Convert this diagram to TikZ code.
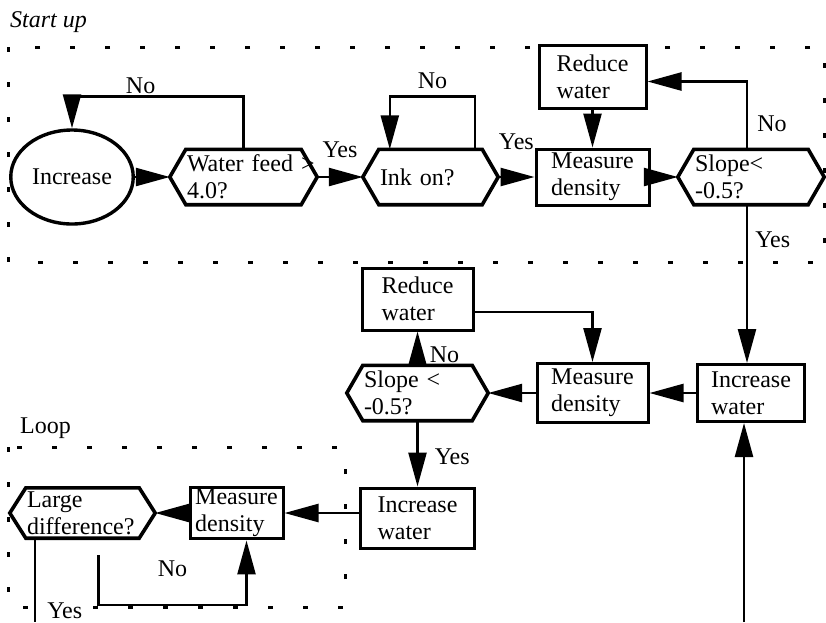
\documentclass[tikz,border=0pt]{standalone}
\usepackage{fontspec}
\setmainfont{Liberation Serif}
\usetikzlibrary{arrows.meta, shapes.geometric, positioning, calc}

\begin{document}
\begin{tikzpicture}[
      x=1pt, y=-1pt,
      font=\fontsize{24}{27}\selectfont,
      caja/.style ={draw, fill=white, line width=3pt, align=left,
                    inner sep=2pt},
      deci/.style ={align=left, inner xsep=17pt, inner ysep=0pt,
                    minimum height=55pt, text width=#1},
      hexl/.style ={line width=3.6pt, line join=miter},
      fl/.style   ={-{Triangle[length=34pt,width=18pt]}, line width=2.5pt},
      ln/.style   ={line width=2.5pt},
      etq/.style  ={inner sep=1pt},
      lbl/.style  ={inner sep=0pt},
      zona/.style ={line width=3pt, dash pattern=on 5pt off 30pt}]
      \useasboundingbox (0,0) rectangle (826,622);
      % dotted frames
      \draw[zona] (8,47) rectangle (824,262);
      \draw[zona] (8,447) rectangle (345,607);
      \node[lbl, anchor=base west, font=\fontsize{24}{27}\selectfont\itshape]
            (tstart) at (10,27) {Start up};
      \node[lbl, anchor=base west] (tloop) at (20,433) {Loop};
      % start up
      \node[ellipse, draw, fill=white, line width=3.4pt, minimum width=110pt,
            minimum height=94pt] (inc) at (72,177) {Increase};
      \node[deci=113pt] (feed)   at (243.5,177) {Water~feed~>\\4.0?};
      \node[deci=101pt] (ink)    at (430.5,177) {Ink on?};
      \node[caja, minimum width=113pt, minimum height=56pt]
            (meas1) at (592.5,177) {Measure\\density};
      \node[caja, minimum width=107pt, minimum height=63pt]
            (red1)  at (592.5,76.5) {Reduce\\water};
      \node[deci=112pt] (slope1) at (751,177) {Slope<\\-0.5?};
      % middle row
      \node[caja, minimum width=111pt, minimum height=62pt]
            (red2)  at (417.5,299) {Reduce\\water};
      \node[deci=107pt] (slope2) at (417.5,393) {Slope <\\-0.5?};
      \node[caja, minimum width=111pt, minimum height=59pt]
            (meas2) at (592.5,393) {Measure\\density};
      \node[caja, minimum width=107pt, minimum height=57pt]
            (incw2) at (751,393) {Increase\\water};
      % loop
      \node[caja, minimum width=114pt, minimum height=60pt]
            (incw3) at (417.5,518) {Increase\\water};
      \node[caja, minimum width=93pt, minimum height=50pt]
            (meas3) at (236.5,513) {Measure\\density};
      \node[deci=111pt, minimum height=50pt] (large) at (82.5,513)
            {Large\\difference?};
      \foreach \h in {feed,ink,slope1,slope2,large}
        \draw[hexl] (\h.west) -- ([xshift=16pt]\h.north west)
          -- ([xshift=-16pt]\h.north east) -- (\h.east)
          -- ([xshift=-16pt]\h.south east) -- ([xshift=16pt]\h.south west)
          -- cycle;
      \coordinate (yesend)   at (35,622);
      \coordinate (fromdown) at (744,622);
      % connectors
      \draw[fl] (inc) -- (feed);
      \draw[fl] (feed.north) -- ++(0,-53)
        -| node[etq,pos=0.3,above]{No} (inc.north);
      \draw[fl] (feed) -- node[etq,above=17pt]{Yes} (ink);
      \draw[fl] ([xshift=-23pt]ink.north east) -- ++(0,-53)
        -| node[etq,pos=0.25,above=5pt]{No} ([xshift=27pt]ink.north west);
      \draw[fl] (ink) -- node[etq,above=25pt]{Yes} (meas1);
      \draw[fl] (red1) -- (meas1);
      \draw[fl] (meas1) -- (slope1);
      \draw[fl] ([xshift=-4pt]slope1.north)
        |- node[etq,pos=0.19,right=8pt]{No} ([yshift=-5pt]red1.east);
      \draw[fl] ([xshift=-4pt]slope1.south)
        -- node[etq,pos=0.22,right=6pt]{Yes} ([xshift=-4pt]incw2.north);
      \draw[fl] ([yshift=-13pt]red2.east) -| (meas2.north);
      \draw[fl] (incw2) -- (meas2);
      \draw[fl] (meas2) -- (slope2);
      \draw[fl] (slope2) -- node[etq,pos=0.3,right=10pt]{No} (red2);
      \draw[fl] (slope2) -- node[etq,pos=0.55,right=15pt]{Yes} (incw3);
      \draw[fl] (incw3.west |- meas3.east) -- (meas3.east);
      \draw[fl] (meas3) -- (large);
      \draw[fl, shorten <=17pt] ([xshift=16pt]large.south) -- ++(0,67)
        -| node[etq,pos=0.25,above=26pt]{No} ([xshift=10pt]meas3.south);
      \draw[ln] (large.south -| yesend)
        -- node[etq,fill=white,pos=0.86,right=10pt]{Yes} (yesend);
      \draw[fl] (fromdown) -- (fromdown |- incw2.south);
\end{tikzpicture}
\end{document}
